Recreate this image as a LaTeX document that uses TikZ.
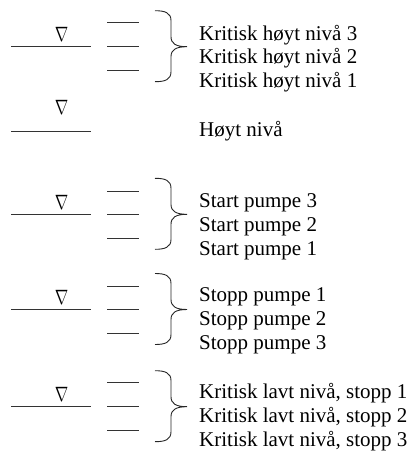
\documentclass[tikz,border=0pt]{standalone}
\usepackage{fontspec}
\usepackage{graphicx}
\setmainfont{Liberation Serif}
\tikzset{
  x=1pt,y=1pt,
  lvl/.style={line width=0.9pt, draw=black!80},
  bracestyle/.style={line width=0.9pt, draw=black!85},
  lbl/.style={anchor=base west, inner sep=0pt, font=\fontsize{21}{24}\selectfont},
  tri/.style={anchor=south, inner sep=0pt, font=\fontsize{20}{20}\selectfont},
  lvlbrace/.pic={\draw[bracestyle] (-32,36) .. controls (-22,36) and (-16,34) .. (-16,26) -- (-16,10) .. controls (-16,3) and (-11,0) .. (0,0) .. controls (-11,0) and (-16,-3) .. (-16,-10) -- (-16,-25) .. controls (-16,-33) and (-22,-35) .. (-32,-35);}
}
\newcommand{\nabsym}{\scalebox{0.78}[1]{$\nabla$}}
\begin{document}
\begin{tikzpicture}
\useasboundingbox (0,0) rectangle (411,-453);
% group 1
\draw[lvl] (11,-46.7) -- (91,-46.7);
\node[tri] (t1) at (61.5,-41.7) {\nabsym};
\draw[lvl] (107,-22.7) -- (139,-22.7);
\draw[lvl] (107,-46.7) -- (139,-46.7);
\draw[lvl] (107,-70.7) -- (139,-70.7);
\pic at (187,-46.7) {lvlbrace};
\node[lbl] (a1) at (199,-40) {Kritisk høyt nivå 3};
\node[lbl] (a2) at (199,-63.5) {Kritisk høyt nivå 2};
\node[lbl] (a3) at (199,-87) {Kritisk høyt nivå 1};
% hoyt niva
\draw[lvl] (11,-131) -- (91,-131);
\node[tri] (t2) at (61.5,-115) {\nabsym};
\node[lbl] (h1) at (199,-136) {Høyt nivå};
% group 2
\draw[lvl] (11,-214.3) -- (91,-214.3);
\node[tri] (t3) at (61.5,-209.5) {\nabsym};
\draw[lvl] (107,-191) -- (139,-191);
\draw[lvl] (107,-214.3) -- (139,-214.3);
\draw[lvl] (107,-238.5) -- (139,-238.5);
\pic at (187,-214.3) {lvlbrace};
\node[lbl] (b1) at (199,-207.5) {Start pumpe 3};
\node[lbl] (b2) at (199,-231.5) {Start pumpe 2};
\node[lbl] (b3) at (199,-255) {Start pumpe 1};
% group 3
\draw[lvl] (11,-309.8) -- (91,-309.8);
\node[tri] (t4) at (61.5,-305) {\nabsym};
\draw[lvl] (107,-286) -- (139,-286);
\draw[lvl] (107,-309.5) -- (139,-309.5);
\draw[lvl] (107,-333.5) -- (139,-333.5);
\pic at (187,-309.5) {lvlbrace};
\node[lbl] (c1) at (199,-301.7) {Stopp pumpe 1};
\node[lbl] (c2) at (199,-325.5) {Stopp pumpe 2};
\node[lbl] (c3) at (199,-349.3) {Stopp pumpe 3};
% group 4
\draw[lvl] (11,-406.7) -- (91,-406.7);
\node[tri] (t5) at (61.5,-401.7) {\nabsym};
\draw[lvl] (107,-382.7) -- (139,-382.7);
\draw[lvl] (107,-406.7) -- (139,-406.7);
\draw[lvl] (107,-430.7) -- (139,-430.7);
\pic at (187,-406.7) {lvlbrace};
\node[lbl] (d1) at (199,-398.3) {Kritisk lavt nivå, stopp 1};
\node[lbl] (d2) at (199,-422.5) {Kritisk lavt nivå, stopp 2};
\node[lbl] (d3) at (199,-446.5) {Kritisk lavt nivå, stopp 3};
\end{tikzpicture}
\end{document}
